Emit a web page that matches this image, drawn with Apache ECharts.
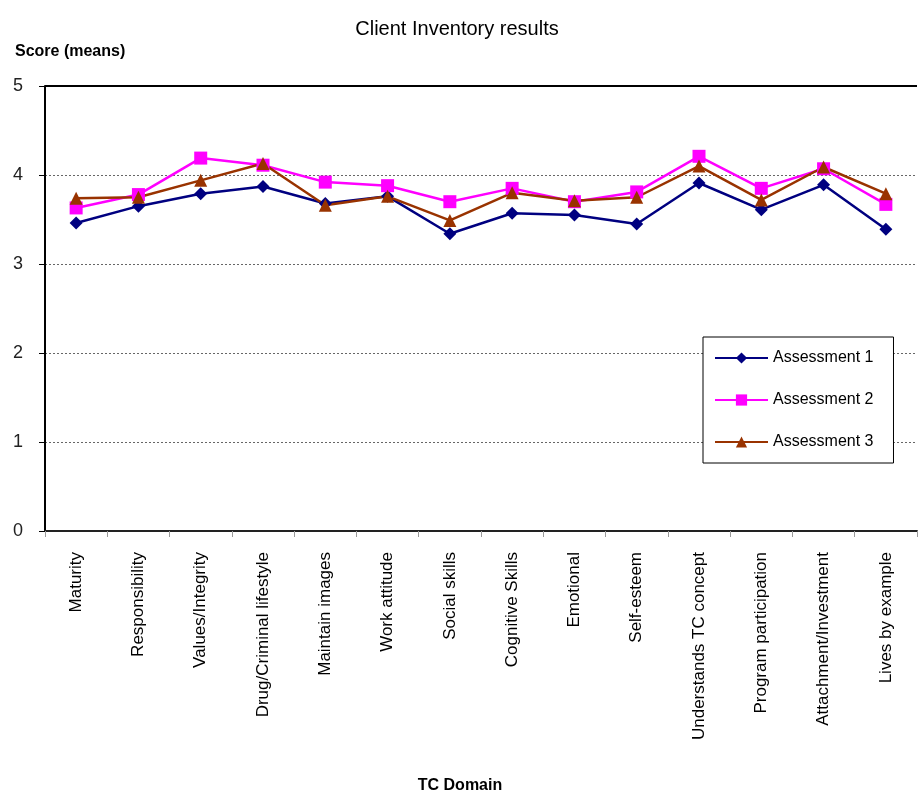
<!DOCTYPE html>
<html>
<head>
<meta charset="utf-8">
<script src="https://cdn.jsdelivr.net/npm/echarts@6/dist/echarts.min.js"></script>
<style>html,body{margin:0;padding:0;background:#fff;}#c{width:919px;height:791px;}</style>
</head>
<body>
<div id="c"></div>
<script>
const categories = ["Maturity","Responsibility","Values/Integrity","Drug/Criminal lifestyle","Maintain images","Work attitude","Social skills","Cognitive Skills","Emotional","Self-esteem","Understands TC concept","Program participation","Attachment/Investment","Lives by example"];
const assessment1 = [3.46,3.65,3.79,3.87,3.68,3.76,3.34,3.57,3.55,3.45,3.91,3.61,3.89,3.39];
const assessment2 = [3.63,3.78,4.19,4.11,3.92,3.88,3.70,3.85,3.70,3.81,4.21,3.85,4.07,3.67];
const assessment3 = [3.74,3.75,3.94,4.13,3.66,3.76,3.49,3.80,3.71,3.75,4.10,3.72,4.09,3.79];
const yTicks = [0,1,2,3,4,5];

const chart = echarts.init(document.getElementById('c'));
const mk = (name, data, color, symbol, size) => ({
  name, type: 'line', data, symbol, symbolSize: size, z: 3,
  itemStyle: {color}, lineStyle: {color, width: 2.5}
});
const s1 = mk('Assessment 1', assessment1, '#000080', 'diamond', 13);
s1.markLine = {silent: true, symbol: 'none', label: {show: false},
  lineStyle: {color: '#000', type: 'solid', width: 2}, data: [{yAxis: 5}]};
chart.setOption({
  animation: false,
  backgroundColor: '#fff',
  title: [
    {text: 'Client Inventory results', left: 452, top: 14, textAlign: 'center',
     textStyle: {fontFamily: 'Liberation Sans', fontSize: 20, fontWeight: 'normal', color: '#000'}},
    {text: 'Score (means)', left: 10, top: 39,
     textStyle: {fontFamily: 'Liberation Sans', fontSize: 16, fontWeight: 'bold', color: '#000'}},
    {text: 'TC Domain', left: 455, top: 773, textAlign: 'center',
     textStyle: {fontFamily: 'Liberation Sans', fontSize: 16, fontWeight: 'bold', color: '#000'}}
  ],
  legend: {
    orient: 'vertical', left: 703, top: 337,
    padding: [13, 20, 13, 11], itemWidth: 53, itemHeight: 14, itemGap: 26,
    borderColor: '#000', borderWidth: 1, backgroundColor: '#fff',
    textStyle: {fontFamily: 'Liberation Sans', fontSize: 16, color: '#000'},
    data: ['Assessment 1','Assessment 2','Assessment 3']
  },
  grid: {left: 45, right: 2, top: 86, bottom: 260},
  xAxis: {
    type: 'category', data: categories, boundaryGap: true,
    axisLine: {lineStyle: {color: '#222', width: 2}},
    axisTick: {show: true, inside: false, length: 6, lineStyle: {color: '#999'}},
    axisLabel: {rotate: 90, margin: 21, interval: 0, fontFamily: 'Liberation Sans', fontSize: 17, color: '#000'}
  },
  yAxis: {
    type: 'value', min: 0, max: 5, interval: 1,
    axisLine: {show: true, lineStyle: {color: '#000', width: 2}},
    axisTick: {show: true, length: 6, lineStyle: {color: '#000'}},
    axisLabel: {margin: 22, fontFamily: 'Liberation Sans', fontSize: 18, color: '#222',
      formatter: v => yTicks.includes(v) ? String(v) : ''},
    splitLine: {show: true, lineStyle: {color: '#666', type: [2, 2], width: 1}}
  },
  series: [
    s1,
    mk('Assessment 2', assessment2, '#FF00FF', 'rect', 13),
    mk('Assessment 3', assessment3, '#993300', 'triangle', 13)
  ]
});
</script>
</body>
</html>
